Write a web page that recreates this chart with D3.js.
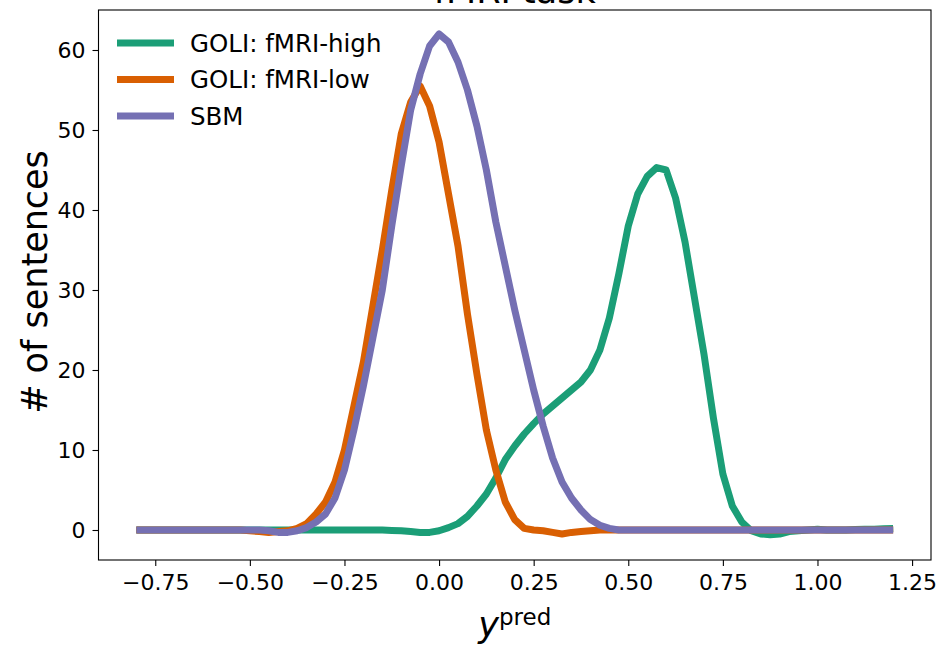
<!DOCTYPE html>
<meta charset="utf-8">
<head>
  <title>fMRI task</title>
</head>
<style>
body { margin: 0; background: #fff; }
text { font-family: "DejaVu Sans", sans-serif; }
.axis line { stroke: #000; stroke-width: 1.1; }
.axis text { font-size: 22px; fill: #000; }
</style>
<body>
<svg id="chart" width="936" height="646"></svg>
<script src="https://cdnjs.cloudflare.com/ajax/libs/d3/7.8.5/d3.min.js"></script>
<script>

// x grid of y_pred values (step 0.025)
var xs = d3.range(81).map(function(i){ return Math.round((-0.8 + i*0.025)*1000)/1000; });

var seriesNames = ["GOLI: fMRI-high", "GOLI: fMRI-low", "SBM"];
var colors = ["#1b9e77", "#d95f02", "#7570b3"];

var fmriHigh = [
  0,0,0,0,0,0,0,0,0,0,
  0,0,0,0,0,0,0,0,0,0,
  0,0,0,0,0,0,0,-0.05,-0.1,-0.2,
  -0.3,-0.3,-0.1,0.3,0.8,1.7,3,4.5,6.5,8.8,
  10.5,12,13.3,14.5,15.5,16.5,17.5,18.5,20,22.5,
  26.5,32,38,42,44.2,45.3,45,41.5,36,29,
  22,14,7,3,1,-0.1,-0.5,-0.6,-0.5,-0.2,
  -0.1,0,0.1,0,0,0,0.05,0.1,0.1,0.15,0.2
];

var fmriLow = [
  0,0,0,0,0,0,0,0,0,0,
  0,0,-0.1,-0.2,-0.3,-0.2,-0.1,0.2,0.8,2,
  3.5,6,10,15.5,21,28,35,42.5,49.5,53.5,
  55.5,53,48.5,42,35.5,27,19.5,12.5,7.5,3.5,
  1.3,0.2,0,-0.1,-0.3,-0.5,-0.3,-0.2,-0.1,0,
  0,0,0,0,0,0,0,0,0,0,
  0,0,0,0,0,0,0,0,0,0,
  0,0,0,0,0,0,0,0,0,0,0
];

var sbm = [
  0,0,0,0,0,0,0,0,0,0,
  0,0,0,0,-0.1,-0.3,-0.3,-0.1,0.3,1,
  2,4,7.5,12.5,18,24,30,38,45.5,52.5,
  57,60.5,62,61,58.5,55,50.5,45,38.5,33,
  27.5,22.5,17.5,13,9,6,4,2.5,1.3,0.6,
  0.2,0,0,0,0,0,0,0,0,0,
  0,0,0,0,0,0,0,0,0,0,
  0,0,0,0,0,0,0,0,0,0,0
];

var xTicks = [-0.75, -0.5, -0.25, 0, 0.25, 0.5, 0.75, 1.0, 1.25];
var yTicks = [0, 10, 20, 30, 40, 50, 60];

var svg = d3.select("#chart");
var mLeft = 98.5, mRight = 931, mTop = 10, mBottom = 560;

var x = d3.scaleLinear().domain([-0.9, 1.3]).range([mLeft, mRight]);
var y = d3.scaleLinear().domain([-3.75, 65]).range([mBottom, mTop]);

// axes
svg.append("g").attr("class", "axis")
  .attr("transform", "translate(0," + mBottom + ")")
  .call(d3.axisBottom(x).tickValues(xTicks).tickSizeOuter(0).tickSize(6).tickPadding(8)
    .tickFormat(function(d){ return d3.format(".2f")(d).replace("-", "\u2212"); }));
svg.append("g").attr("class", "axis")
  .attr("transform", "translate(" + mLeft + ",0)")
  .call(d3.axisLeft(y).tickValues(yTicks).tickSizeOuter(0).tickSize(6).tickPadding(7));
svg.selectAll(".axis .domain").remove();

// frame
svg.append("rect")
  .attr("x", mLeft).attr("y", mTop)
  .attr("width", mRight - mLeft).attr("height", mBottom - mTop)
  .attr("fill", "none").attr("stroke", "#000").attr("stroke-width", 1.1);

// lines
svg.append("clipPath").attr("id", "plotclip")
  .append("rect").attr("x", mLeft).attr("y", mTop).attr("width", mRight - mLeft).attr("height", mBottom - mTop);

var line = d3.line()
  .x(function(d, i){ return x(xs[i]); })
  .y(function(d){ return y(d); });

var allSeries = [fmriHigh, fmriLow, sbm];
svg.append("g").attr("clip-path", "url(#plotclip)")
  .selectAll("path")
  .data(allSeries)
  .enter().append("path")
  .attr("d", line)
  .attr("fill", "none")
  .attr("stroke", function(d, i){ return colors[i]; })
  .attr("stroke-width", 7)
  .attr("stroke-linejoin", "round");

// legend
var legend = svg.append("g");
seriesNames.forEach(function(name, i){
  var ly = 43 + i*36.5;
  legend.append("line")
    .attr("x1", 117).attr("x2", 174).attr("y1", ly).attr("y2", ly)
    .attr("stroke", colors[i]).attr("stroke-width", 7);
  legend.append("text")
    .attr("x", 190).attr("y", ly + 8.5)
    .style("font-size", "24.5px")
    .text(name);
});

// title
svg.append("text")
  .attr("x", (mLeft + mRight)/2).attr("y", 3)
  .attr("text-anchor", "middle")
  .style("font-size", "35px")
  .text("fMRI task");

// y label
svg.append("text")
  .attr("transform", "translate(47," + ((mTop + mBottom)/2 - 3) + ") rotate(-90)")
  .attr("text-anchor", "middle")
  .style("font-size", "35px")
  .text("# of sentences");

// x label
var xl = svg.append("text")
  .attr("x", (mLeft + mRight)/2).attr("y", 637)
  .attr("text-anchor", "middle")
  .style("font-size", "35px");
xl.append("tspan").style("font-style", "italic").text("y");
xl.append("tspan").attr("dy", -12).style("font-size", "23px").text("pred");

</script>
</body>
</html>
